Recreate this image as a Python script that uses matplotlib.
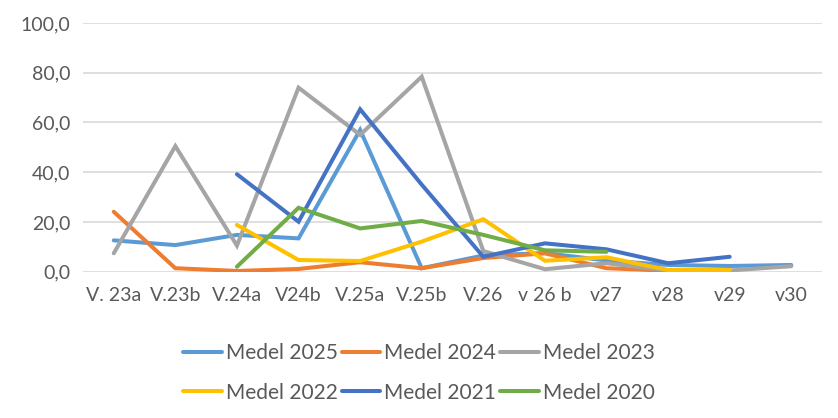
import numpy as np
import matplotlib.pyplot as plt

weeks = ['V. 23a', 'V.23b', 'V.24a', 'V24b', 'V.25a', 'V.25b',
         'V.26', 'v 26 b', 'v27', 'v28', 'v29', 'v30']
nan = np.nan

medel_2025 = [12.6, 10.7, 14.8, 13.4, 57.0, 1.4, 6.5, 7.5, 4.5, 2.7, 2.3, 2.7]
medel_2024 = [24.1, 1.4, 0.3, 1.1, 3.8, 1.4, 5.5, 7.4, 1.4, 0.4, 0.2, nan]
medel_2023 = [7.4, 50.5, 10.5, 74.0, 55.0, 78.4, 8.3, 1.0, 3.4, 0.5, 0.5, 2.2]
medel_2022 = [nan, nan, 18.8, 4.7, 4.3, 12.1, 21.1, 4.4, 5.8, 0.7, 0.7, nan]
medel_2021 = [nan, nan, 39.2, 20.1, 65.3, 35.0, 6.0, 11.4, 9.0, 3.4, 6.0, nan]
medel_2020 = [nan, nan, 2.0, 25.7, 17.4, 20.4, 14.8, 8.6, 8.0, nan, nan, nan]

series = [
    ('Medel 2025', medel_2025, '#5B9BD5'),
    ('Medel 2024', medel_2024, '#ED7D31'),
    ('Medel 2023', medel_2023, '#A5A5A5'),
    ('Medel 2022', medel_2022, '#FFC000'),
    ('Medel 2021', medel_2021, '#4472C4'),
    ('Medel 2020', medel_2020, '#70AD47'),
]

plt.rcParams['font.family'] = ['Lato', 'DejaVu Sans']
txt = '#595959'

fig = plt.figure(figsize=(8.38, 4.18), dpi=100)
ax = fig.add_axes([0.099, 0.35, 0.882, 0.595])

x = np.arange(len(weeks))
lines = []
for name, vals, col in series:
    ln, = ax.plot(x, vals, color=col, lw=2.9, label=name, solid_capstyle='round',
                  solid_joinstyle='miter')
    lines.append(ln)

ax.set_xlim(-0.5, len(weeks) - 0.5)
ax.set_ylim(0, 100)
ax.set_yticks(np.arange(0, 101, 20))
ax.set_yticklabels([f'{v:.1f}'.replace('.', ',') for v in range(0, 101, 20)])
ax.set_xticks(x)
ax.set_xticklabels(weeks)
ax.tick_params(axis='both', length=0, colors=txt, labelsize=14)
ax.tick_params(axis='x', pad=11)
ax.tick_params(axis='y', pad=9)
ax.grid(axis='y', color='#D9D9D9', lw=1.2)
ax.set_axisbelow(True)
for s in ax.spines.values():
    s.set_visible(False)

# legend fills column-wise, reorder so rows read 2025-2023 / 2022-2020
order = [0, 3, 1, 4, 2, 5]
fig.legend([lines[i] for i in order], [series[i][0] for i in order],
           loc='center', bbox_to_anchor=(0.5, 0.108), ncol=3, frameon=False,
           fontsize=15, labelcolor=txt, handlelength=1.85, handletextpad=0.2,
           columnspacing=0.2, labelspacing=0.95)

fig.savefig('out.png', dpi=100)
